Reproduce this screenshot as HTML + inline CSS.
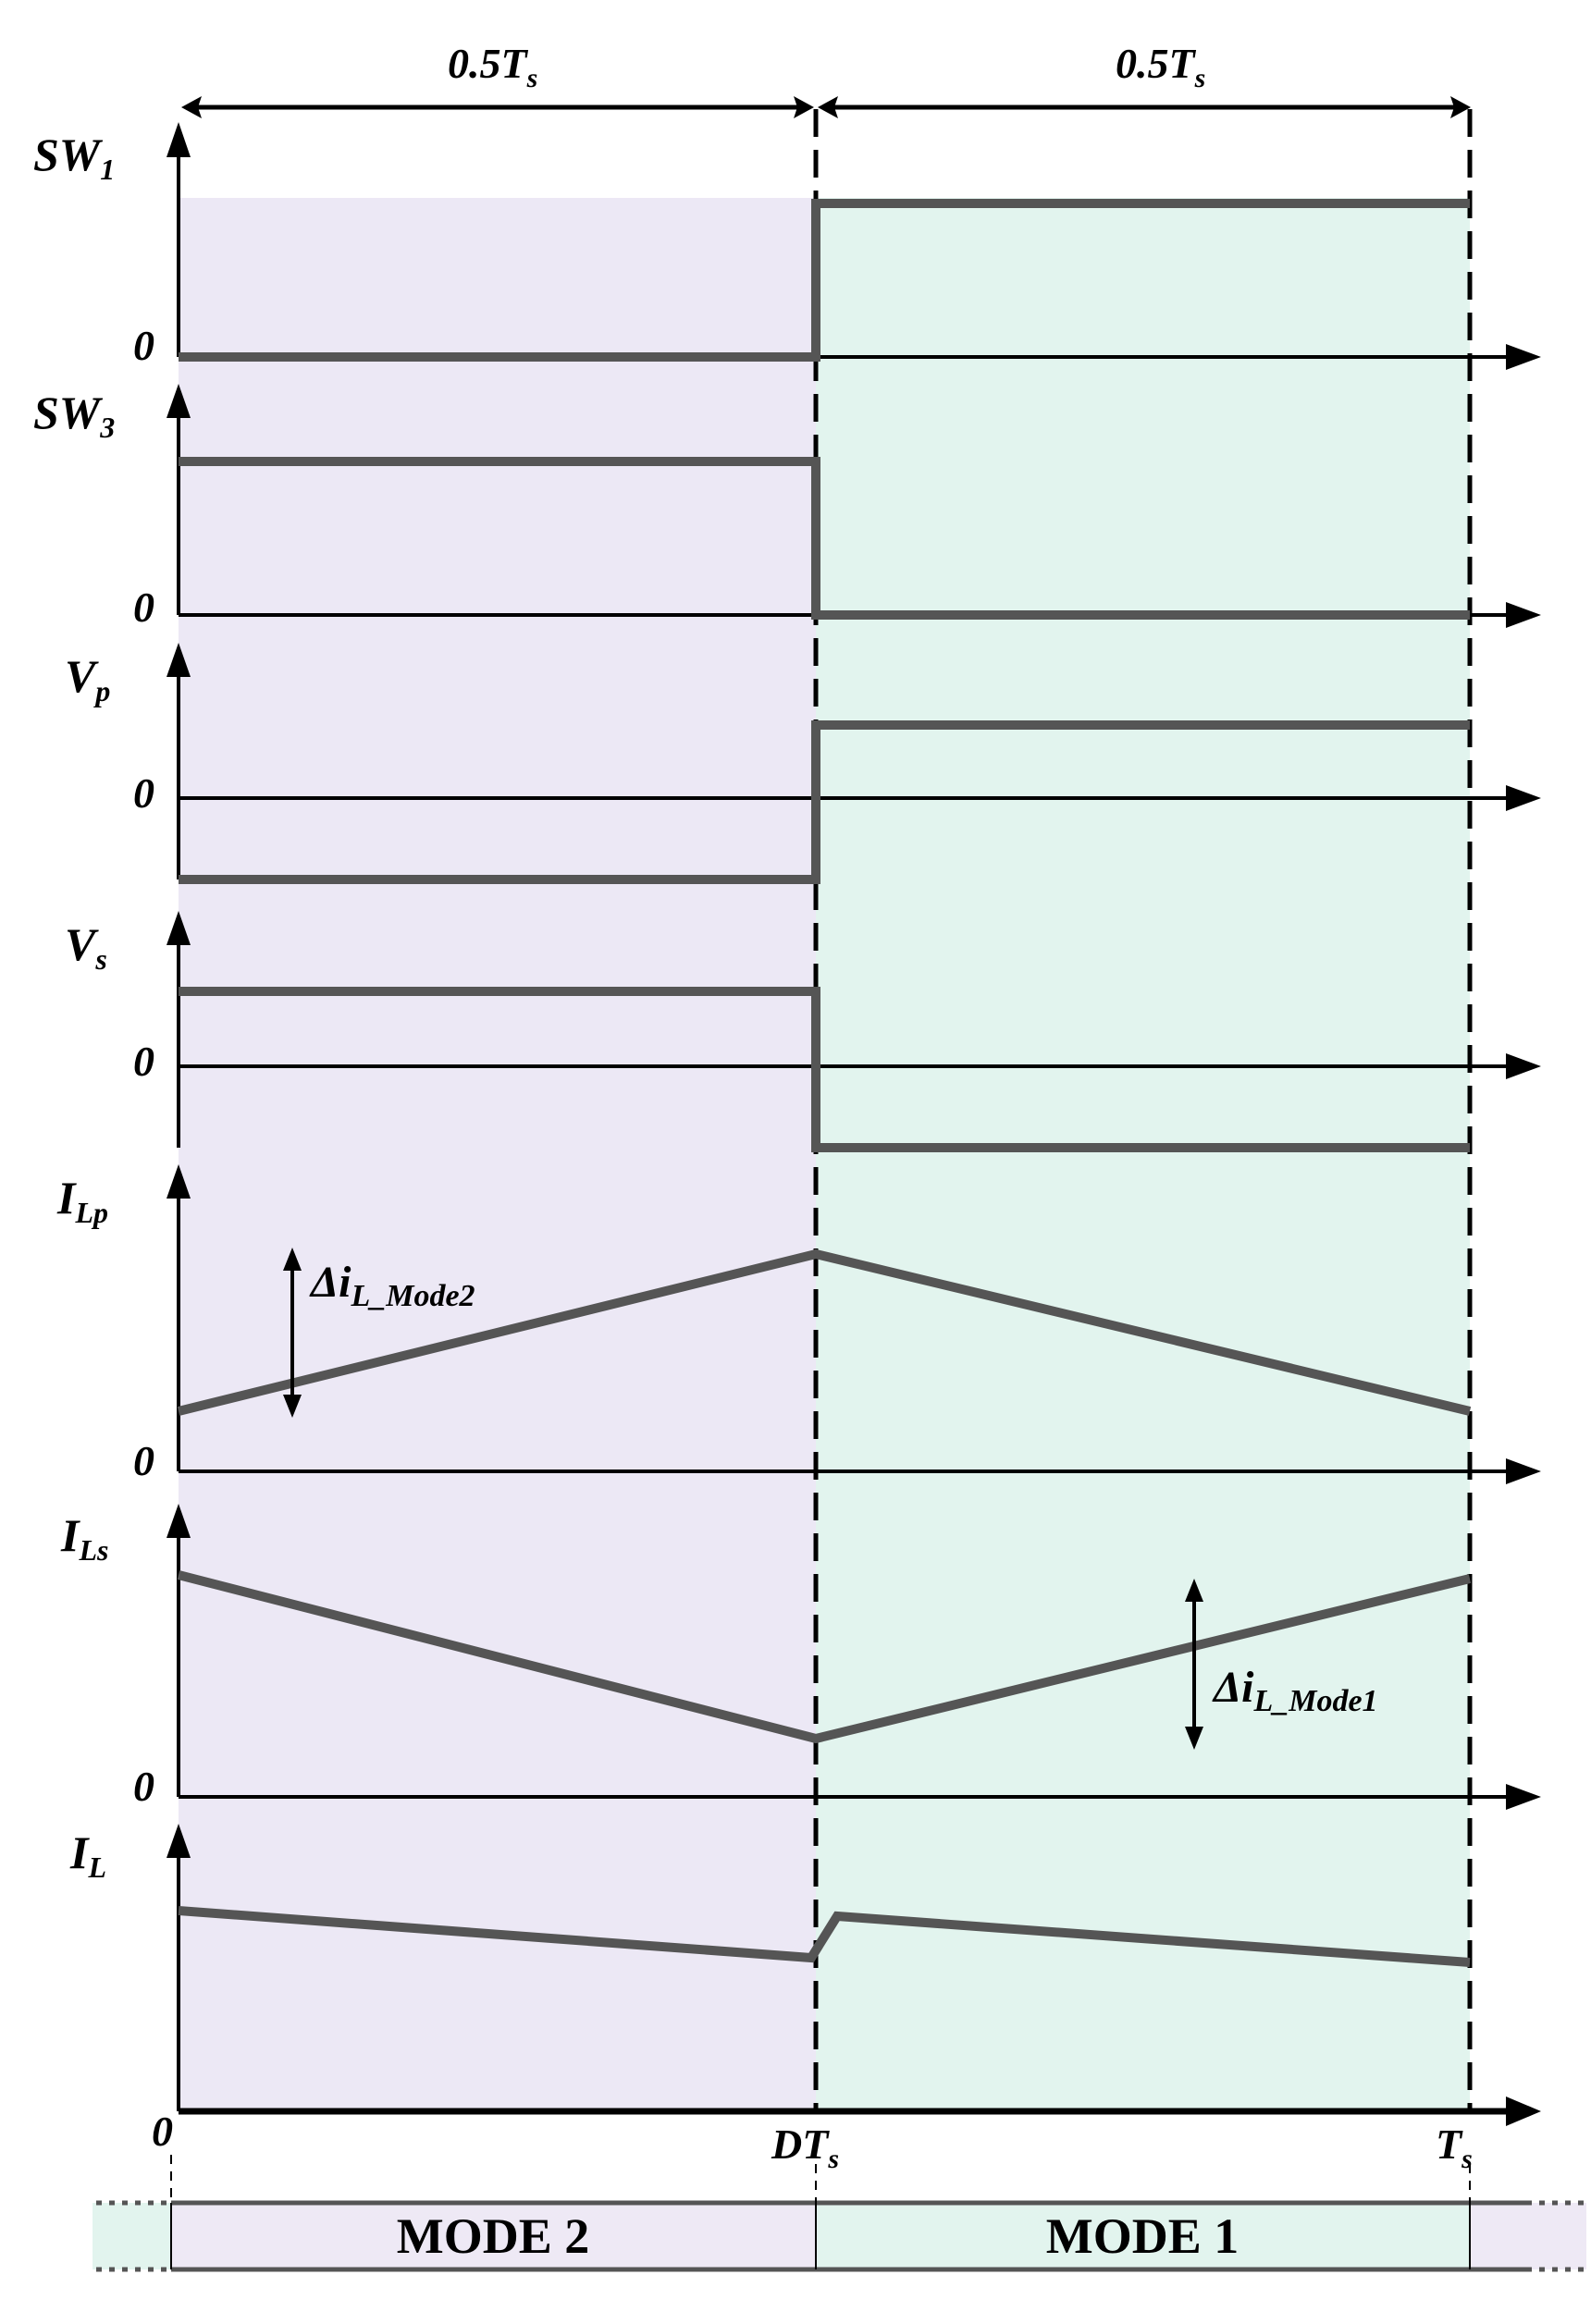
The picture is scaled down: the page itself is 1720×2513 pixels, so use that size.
<!DOCTYPE html>
<html><head><meta charset="utf-8"><style>
html,body{margin:0;padding:0;background:#fff}
svg{display:block}
text{font-family:"Liberation Serif",serif;font-weight:bold;font-style:italic;fill:#000}
text.m{font-style:normal}
</style></head><body>
<svg width="1720" height="2513" viewBox="0 0 1720 2513" xmlns="http://www.w3.org/2000/svg">
<!-- fills -->
<rect x="193" y="214" width="689" height="2069" fill="#ECE8F5"/>
<rect x="882" y="214" width="707" height="2069" fill="#E2F4EE"/>

<!-- dimension arrows -->
<g stroke="#000" stroke-width="5" fill="#000">
<line x1="212" y1="116" x2="866" y2="116"/>
<line x1="898" y1="116" x2="1572" y2="116"/>
</g>
<g fill="#000">
<path d="M196,116 L218,104 L214,116 L218,128z"/>
<path d="M880,116 L858,104 L862,116 L858,128z"/>
<path d="M884,116 L906,104 L902,116 L906,128z"/>
<path d="M1590,116 L1568,104 L1572,116 L1568,128z"/>
</g>
<text x="484" y="84" font-size="46">0.5T<tspan font-size="30" dy="10">s</tspan></text>
<text x="1206" y="84" font-size="46">0.5T<tspan font-size="30" dy="10">s</tspan></text>

<!-- dashed lines -->
<g stroke="#000" stroke-width="5" stroke-dasharray="30 14" fill="none">
<line x1="882" y1="118" x2="882" y2="2283"/>
<line x1="1589" y1="118" x2="1589" y2="2283"/>
</g>

<!-- axes -->
<g stroke="#000" stroke-width="4" fill="none">
<line x1="193" y1="150" x2="193" y2="386"/><line x1="193" y1="386" x2="1640" y2="386"/>
<line x1="193" y1="432" x2="193" y2="665"/><line x1="193" y1="665" x2="1640" y2="665"/>
<line x1="193" y1="712" x2="193" y2="951"/><line x1="193" y1="863" x2="1640" y2="863"/>
<line x1="193" y1="1002" x2="193" y2="1241"/><line x1="193" y1="1153" x2="1640" y2="1153"/>
<line x1="193" y1="1276" x2="193" y2="1591"/><line x1="193" y1="1591" x2="1640" y2="1591"/>
<line x1="193" y1="1643" x2="193" y2="1943"/><line x1="193" y1="1943" x2="1640" y2="1943"/>
<line x1="193" y1="1989" x2="193" y2="2283"/><line x1="193" y1="2283" x2="1640" y2="2283" stroke-width="7"/>
</g>
<g fill="#000">
<path d="M193,132 L180,170 L206,170z"/><path d="M1666,386 L1628,372 L1628,400z"/>
<path d="M193,415 L180,452 L206,452z"/><path d="M1666,665 L1628,651 L1628,679z"/>
<path d="M193,695 L180,732 L206,732z"/><path d="M1666,863 L1628,849 L1628,877z"/>
<path d="M193,985 L180,1022 L206,1022z"/><path d="M1666,1153 L1628,1139 L1628,1167z"/>
<path d="M193,1259 L180,1296 L206,1296z"/><path d="M1666,1591 L1628,1577 L1628,1605z"/>
<path d="M193,1626 L180,1663 L206,1663z"/><path d="M1666,1943 L1628,1929 L1628,1957z"/>
<path d="M193,1972 L180,2009 L206,2009z"/><path d="M1666,2283 L1628,2267 L1628,2299z"/>
</g>

<!-- waveforms -->
<g stroke="#555" stroke-width="10" fill="none" stroke-linejoin="miter">
<polyline points="193,386 882,386 882,220 1589,220"/>
<polyline points="193,499 882,499 882,665 1589,665"/>
<polyline points="193,951 882,951 882,784 1589,784"/>
<polyline points="193,1072 882,1072 882,1241 1589,1241"/>
<polyline points="193,1526 882,1356 1589,1526"/>
<polyline points="193,1703 882,1880 1589,1707"/>
<polyline points="193,2066 877,2117 905,2072 1589,2122"/>
</g>

<!-- delta arrows -->
<g stroke="#000" stroke-width="4">
<line x1="316" y1="1365" x2="316" y2="1517"/>
<line x1="1291" y1="1723" x2="1291" y2="1876"/>
</g>
<g fill="#000">
<path d="M316,1349 L306,1374 L326,1374z"/><path d="M316,1533 L306,1508 L326,1508z"/>
<path d="M1291,1707 L1281,1732 L1301,1732z"/><path d="M1291,1892 L1281,1867 L1301,1867z"/>
</g>
<text x="336" y="1402" font-size="48">Δi<tspan font-size="34" dy="10">L_Mode2</tspan></text>
<text x="1312" y="1840" font-size="48">Δi<tspan font-size="34" dy="10">L_Mode1</tspan></text>

<!-- labels -->
<text x="36" y="184" font-size="50">SW<tspan font-size="32" dy="10">1</tspan></text>
<text x="36" y="463" font-size="50">SW<tspan font-size="32" dy="10">3</tspan></text>
<text x="70" y="748" font-size="50">V<tspan font-size="32" dy="10">p</tspan></text>
<text x="70" y="1038" font-size="50">V<tspan font-size="32" dy="10">s</tspan></text>
<text x="62" y="1312" font-size="50">I<tspan font-size="32" dy="10">Lp</tspan></text>
<text x="66" y="1677" font-size="50">I<tspan font-size="32" dy="10">Ls</tspan></text>
<text x="76" y="2020" font-size="50">I<tspan font-size="32" dy="10">L</tspan></text>
<g font-size="46">
<text x="144" y="389">0</text>
<text x="144" y="672">0</text>
<text x="144" y="873">0</text>
<text x="144" y="1163">0</text>
<text x="144" y="1595">0</text>
<text x="144" y="1947">0</text>
<text x="164" y="2320">0</text>
<text x="834" y="2334">DT<tspan font-size="30" dy="10">s</tspan></text>
<text x="1552" y="2334">T<tspan font-size="30" dy="10">s</tspan></text>
</g>

<!-- mode bar -->
<rect x="100" y="2382" width="85" height="72" fill="#E2F4EE"/>
<rect x="185" y="2382" width="697" height="72" fill="#EEE9F5"/>
<rect x="882" y="2382" width="707" height="72" fill="#E2F4EE"/>
<rect x="1589" y="2382" width="126" height="72" fill="#EEE9F5"/>
<g stroke="#555" stroke-width="5">
<line x1="185" y1="2382" x2="1650" y2="2382"/>
<line x1="185" y1="2454" x2="1650" y2="2454"/>
</g>
<g stroke="#555" stroke-width="5" stroke-dasharray="6 8">
<line x1="104" y1="2382" x2="185" y2="2382"/><line x1="104" y1="2454" x2="185" y2="2454"/>
<line x1="1650" y1="2382" x2="1715" y2="2382"/><line x1="1650" y1="2454" x2="1715" y2="2454"/>
</g>
<g stroke="#000" stroke-width="2">
<line x1="185" y1="2382" x2="185" y2="2454"/>
<line x1="882" y1="2382" x2="882" y2="2454"/>
<line x1="1589" y1="2382" x2="1589" y2="2454"/>
</g>
<g stroke="#000" stroke-width="2" stroke-dasharray="10 8">
<line x1="185" y1="2330" x2="185" y2="2382"/>
<line x1="882" y1="2340" x2="882" y2="2382"/>
<line x1="1589" y1="2340" x2="1589" y2="2382"/>
</g>
<text class="m" x="533" y="2436" font-size="54" text-anchor="middle">MODE 2</text>
<text class="m" x="1235" y="2436" font-size="54" text-anchor="middle">MODE 1</text>
</svg>
</body></html>
